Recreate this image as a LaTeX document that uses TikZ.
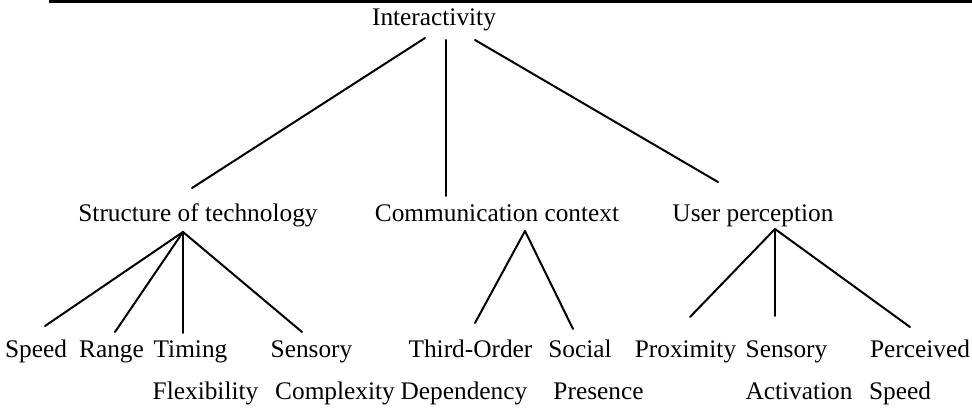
\documentclass[tikz,border=0pt]{standalone}
\usepackage{fontspec}
\setmainfont{Liberation Serif}
\begin{document}
\begin{tikzpicture}[x=0.75pt,y=-0.75pt,
  lbl/.style={font=\fontsize{19}{21}\selectfont, inner sep=0pt, anchor=base},
  edge/.style={line width=1.5pt, line cap=round}]
\useasboundingbox (0,0) rectangle (972,413);
\fill[black] (49,0) rectangle (972,3.5);
% labels
\node[lbl] (root) at (434,26) {Interactivity};
\node[lbl] (st) at (198,222) {Structure of technology};
\node[lbl] (cc) at (497,222) {Communication context};
\node[lbl] (up) at (753,222) {User perception};
\node[lbl] (speed) at (36,358) {Speed};
\node[lbl] (range) at (111.5,358) {Range};
\node[lbl] (timing) at (190.5,358) {Timing};
\node[lbl] (sensory) at (311.5,358) {Sensory};
\node[lbl] (third) at (470.5,358) {Third-Order};
\node[lbl] (social) at (580,358) {Social};
\node[lbl] (prox) at (685.5,358) {Proximity};
\node[lbl] (sens2) at (786.5,358) {Sensory};
\node[lbl] (perc) at (920,358) {Perceived};
\node[lbl] (flex) at (205.5,400) {Flexibility};
\node[lbl] (compl) at (335,400) {Complexity};
\node[lbl] (dep) at (464,400) {Dependency};
\node[lbl] (pres) at (598.5,400) {Presence};
\node[lbl] (act) at (799,400) {Activation};
\node[lbl] (pspeed) at (900,400) {Speed};
% connector end points
\coordinate (r1) at (425,38);  \coordinate (st-in) at (192,188);
\coordinate (r2) at (446,40);  \coordinate (cc-in) at (446,196);
\coordinate (r3) at (475,40);  \coordinate (up-in) at (718,182);
\coordinate (st-out) at (183,232);
\coordinate (speed-in) at (45,326);
\coordinate (range-in) at (115,332);
\coordinate (timing-in) at (183,333);
\coordinate (sensory-in) at (302,332);
\coordinate (cc-out) at (525,231);
\coordinate (third-in) at (475,323);
\coordinate (social-in) at (573,329);
\coordinate (up-out) at (775,229);
\coordinate (prox-in) at (690,317);
\coordinate (sens2-in) at (775,316);
\coordinate (perc-in) at (910,327);
% connectors
\draw[edge] (r1) -- (st-in);
\draw[edge] (r2) -- (cc-in);
\draw[edge] (r3) -- (up-in);
\draw[edge] (st-out) -- (speed-in);
\draw[edge] (st-out) -- (range-in);
\draw[edge] (st-out) -- (timing-in);
\draw[edge] (st-out) -- (sensory-in);
\draw[edge] (cc-out) -- (third-in);
\draw[edge] (cc-out) -- (social-in);
\draw[edge] (up-out) -- (prox-in);
\draw[edge] (up-out) -- (sens2-in);
\draw[edge] (up-out) -- (perc-in);
\end{tikzpicture}
\end{document}
